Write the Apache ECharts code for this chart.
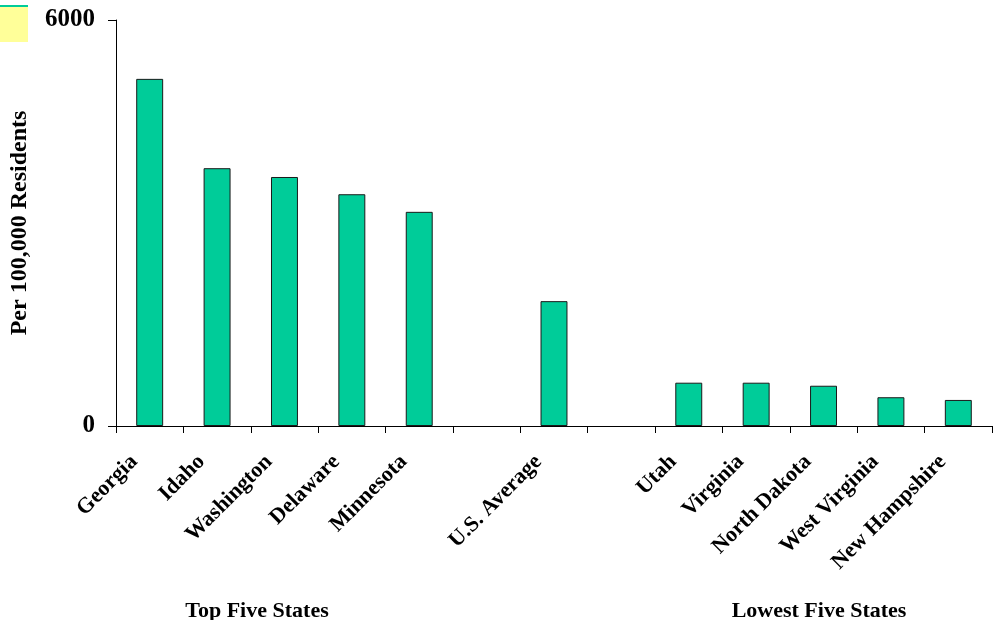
<!DOCTYPE html>
<html>
<head>
<meta charset="utf-8">
<script src="https://cdn.jsdelivr.net/npm/echarts@6/dist/echarts.min.js"></script>
<style>
  html, body { margin: 0; padding: 0; background: #ffffff; }
  #chart { width: 998px; height: 620px; }
</style>
</head>
<body>
<div id="chart"></div>
<script>
// Rates per 100,000 residents: top five states, U.S. average, lowest five states.
// Empty strings are spacer slots between the groups.
const categories = [
  'Georgia', 'Idaho', 'Washington', 'Delaware', 'Minnesota',
  '', 'U.S. Average', '',
  'Utah', 'Virginia', 'North Dakota', 'West Virginia', 'New Hampshire'
];
const rates = [
  5130, 3810, 3680, 3425, 3165,
  null, 1845, null,
  640, 640, 595, 425, 385
];
const yTicks = [0, 6000];
const groupLabels = ['Top Five States', 'Lowest Five States'];

const serif = '"Liberation Serif", "Times New Roman", serif';

const chart = echarts.init(document.getElementById('chart'), null, { renderer: 'canvas' });

chart.setOption({
  animation: false,
  backgroundColor: '#ffffff',
  grid: { left: 116, right: 6, top: 20, bottom: 194, containLabel: false, outerBoundsMode: 'none' },
  xAxis: {
    type: 'category',
    data: categories,
    boundaryGap: true,
    axisLine: { show: true, lineStyle: { color: '#000', width: 1 } },
    axisTick: { show: true, length: 7, alignWithLabel: false, interval: 0, lineStyle: { color: '#000' } },
    axisLabel: {
      interval: 0,
      rotate: 45,
      margin: 17,
      padding: [0, 22, 0, 0],
      color: '#000',
      fontFamily: serif,
      fontWeight: 'bold',
      fontSize: 22
    },
    splitLine: { show: false }
  },
  yAxis: {
    type: 'value',
    min: yTicks[0],
    max: yTicks[yTicks.length - 1],
    interval: yTicks[1] - yTicks[0],
    name: 'Per 100,000 Residents',
    nameLocation: 'middle',
    nameGap: 84,
    nameRotate: 90,
    nameTextStyle: { color: '#000', fontFamily: serif, fontWeight: 'bold', fontSize: 24 },
    axisLine: { show: true, lineStyle: { color: '#000', width: 1 } },
    axisTick: { show: true, length: 8, lineStyle: { color: '#000' } },
    axisLabel: {
      margin: 21,
      color: '#000',
      fontFamily: serif,
      fontWeight: 'bold',
      fontSize: 25,
      formatter: (v) => String(v)
    },
    splitLine: { show: false }
  },
  series: [{
    type: 'bar',
    data: rates,
    barWidth: '40%',
    itemStyle: { color: '#00CC99', borderColor: '#1a1a1a', borderWidth: 1 }
  }],
  graphic: [
    { type: 'rect', left: 0, top: 7, shape: { width: 28, height: 35 }, style: { fill: '#FFFF99' }, silent: true },
    { type: 'line', shape: { x1: 0, y1: 6, x2: 28, y2: 6 }, style: { stroke: '#00CC99', lineWidth: 2 }, silent: true },
    {
      type: 'text', x: 257, y: 600,
      style: { text: groupLabels[0], fill: '#000', font: 'bold 22px ' + serif, textAlign: 'center' }
    },
    {
      type: 'text', x: 819, y: 600,
      style: { text: groupLabels[1], fill: '#000', font: 'bold 22px ' + serif, textAlign: 'center' }
    }
  ]
});
</script>
</body>
</html>
